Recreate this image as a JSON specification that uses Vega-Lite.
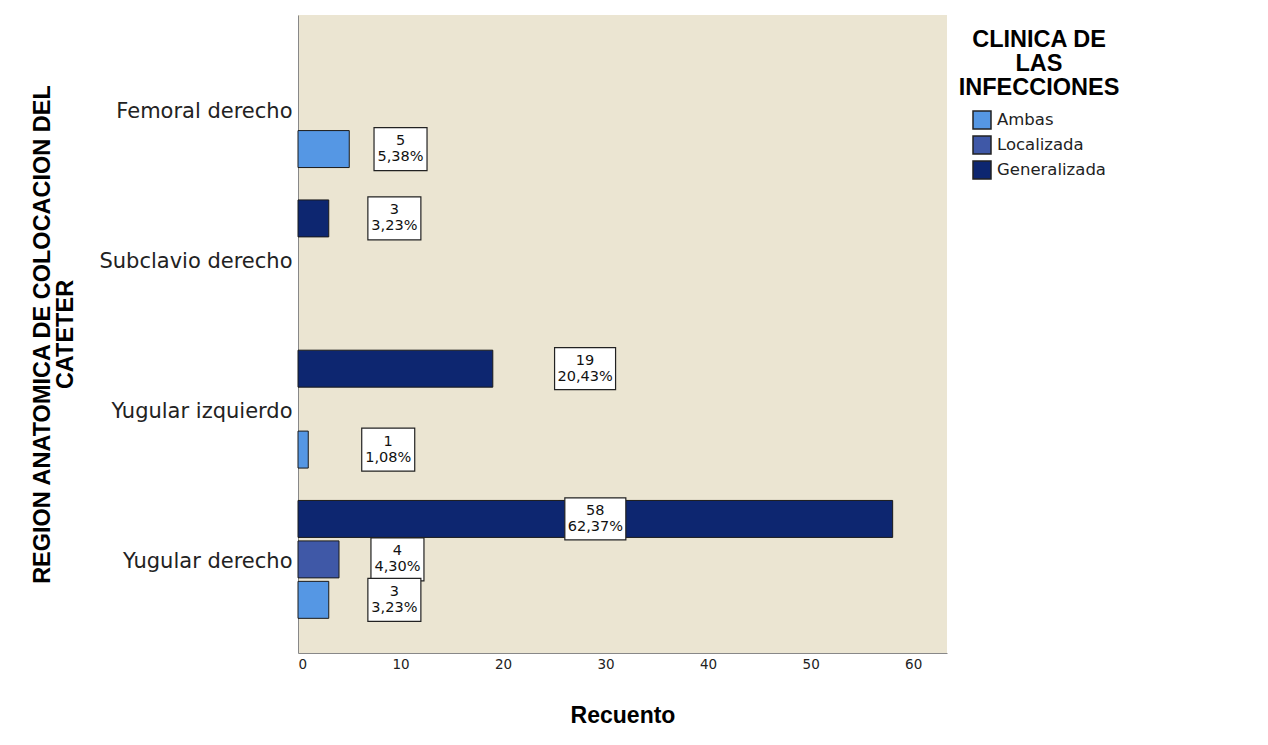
{
  "$schema": "https://vega.github.io/schema/vega-lite/v6.json",
  "width": 649,
  "height": 638,
  "autosize": {"type": "none"},
  "padding": {"left": 298, "top": 15, "right": 321, "bottom": 92},
  "background": "white",
  "data": {
    "values": [
      {"region": "Femoral derecho", "clin": "Ambas", "n": 5, "pct": "5,38%"},
      {"region": "Subclavio derecho", "clin": "Generalizada", "n": 3, "pct": "3,23%"},
      {"region": "Yugular izquierdo", "clin": "Generalizada", "n": 19, "pct": "20,43%"},
      {"region": "Yugular izquierdo", "clin": "Ambas", "n": 1, "pct": "1,08%"},
      {"region": "Yugular derecho", "clin": "Generalizada", "n": 58, "pct": "62,37%"},
      {"region": "Yugular derecho", "clin": "Localizada", "n": 4, "pct": "4,30%"},
      {"region": "Yugular derecho", "clin": "Ambas", "n": 3, "pct": "3,23%"}
    ]
  },
  "encoding": {
    "y": {
      "field": "region",
      "type": "nominal",
      "sort": ["Femoral derecho", "Subclavio derecho", "Yugular izquierdo", "Yugular derecho"],
      "scale": {"paddingInner": 0, "paddingOuter": 0.123},
      "title": ["REGION ANATOMICA DE COLOCACION DEL", "CATETER"]
    },
    "yOffset": {
      "field": "clin",
      "type": "nominal",
      "scale": {"domain": ["Generalizada", "Localizada", "Ambas"], "paddingInner": 0.086, "paddingOuter": 0.4}
    }
  },
  "layer": [
    {
      "mark": {"type": "bar", "stroke": "#1a1a1a", "strokeWidth": 1},
      "encoding": {
        "x": {
          "field": "n",
          "type": "quantitative",
          "title": "Recuento",
          "scale": {"domain": [0, 63.3], "nice": false, "zero": true},
          "axis": {"values": [0, 10, 20, 30, 40, 50, 60]}
        },
        "color": {
          "field": "clin",
          "type": "nominal",
          "scale": {"domain": ["Ambas", "Localizada", "Generalizada"], "range": ["#5597E4", "#3F58A7", "#0D2670"]},
          "legend": {
            "title": ["CLINICA DE", "LAS", "INFECCIONES"],
            "orient": "none",
            "legendX": 661,
            "legendY": 12.5
          }
        }
      }
    },
    {
      "transform": [
        {"calculate": "datum.n > 30 ? datum.n / 2 : (datum.n < 10 ? datum.n * 0.3 + 8.5 : datum.n + 9)", "as": "lx"}
      ],
      "mark": {"type": "point", "filled": true, "fill": "white", "stroke": "#222222", "strokeWidth": 1.2, "opacity": 1},
      "encoding": {
        "x": {"field": "lx", "type": "quantitative", "title": "Recuento", "axis": {"values": [0, 10, 20, 30, 40, 50, 60]}},
        "shape": {
          "condition": {"test": "datum.n >= 10", "value": "M-1,-0.689H1V0.689H-1Z"},
          "value": "M-1,-0.811H1V0.811H-1Z"
        },
        "size": {
          "condition": {"test": "datum.n >= 10", "value": 3721},
          "value": 2809
        }
      }
    },
    {
      "transform": [
        {"calculate": "datum.n > 30 ? datum.n / 2 : (datum.n < 10 ? datum.n * 0.3 + 8.5 : datum.n + 9)", "as": "lx"},
        {"calculate": "[datum.n + '', datum.pct]", "as": "label"}
      ],
      "mark": {"type": "text", "font": "DejaVu Sans", "fontSize": 14.5, "lineHeight": 16, "baseline": "middle", "align": "center", "dy": -8, "color": "#111111"},
      "encoding": {
        "x": {"field": "lx", "type": "quantitative", "title": "Recuento", "axis": {"values": [0, 10, 20, 30, 40, 50, 60]}},
        "text": {"field": "label"}
      }
    }
  ],
  "config": {
    "view": {"fill": "#EBE5D2", "stroke": null},
    "axisY": {
      "domainColor": "#888888",
      "domainWidth": 1,
      "ticks": false,
      "labelFont": "DejaVu Sans",
      "labelFontSize": 21,
      "labelColor": "#222222",
      "labelPadding": 6,
      "labelLimit": 300,
      "labelOffset": 3,
      "titleFont": "Liberation Sans",
      "titleFontSize": 23.5,
      "titleFontWeight": "bold",
      "titleColor": "#000000",
      "titlePadding": 21,
      "titleLineHeight": 23.5
    },
    "axisX": {
      "domainColor": "#888888",
      "domainWidth": 1,
      "ticks": false,
      "grid": false,
      "labelFont": "DejaVu Sans",
      "labelFontSize": 13.5,
      "labelColor": "#222222",
      "labelPadding": 4,
      "titleFont": "Liberation Sans",
      "titleFontSize": 23,
      "titleFontWeight": "bold",
      "titleColor": "#000000",
      "titlePadding": 34
    },
    "legend": {
      "titleAnchor": "middle",
      "titleAlign": "center",
      "titleFont": "Liberation Sans",
      "titleFontSize": 23.5,
      "titleFontWeight": "bold",
      "titleColor": "#000000",
      "titleLineHeight": 24,
      "titlePadding": 11,
      "symbolType": "square",
      "symbolSize": 324,
      "symbolStrokeColor": "#222222",
      "symbolStrokeWidth": 1.5,
      "symbolOpacity": 1,
      "labelFont": "DejaVu Sans",
      "labelFontSize": 16.5,
      "labelColor": "#222222",
      "rowPadding": 1,
      "labelOffset": 5,
      "padding": 0
    }
  }
}
